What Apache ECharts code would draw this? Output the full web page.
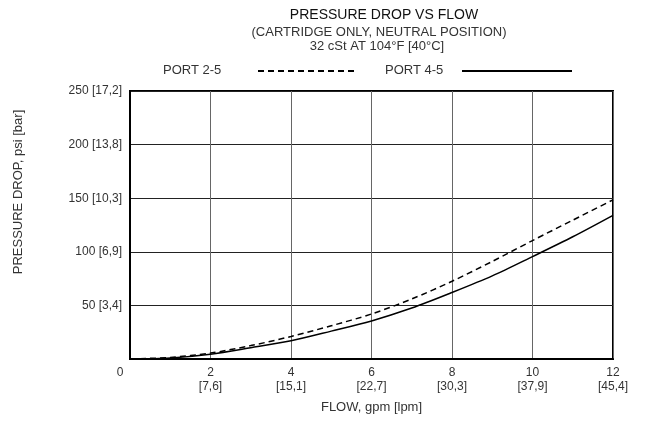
<!DOCTYPE html>
<html><head><meta charset="utf-8">
<script src="https://cdn.jsdelivr.net/npm/echarts@6/dist/echarts.min.js"></script>
<style>html,body{margin:0;padding:0;background:#fff}#c{width:647px;height:425px}</style>
</head><body><div id="c"></div>
<script>
var flow = [0, 1, 2, 3, 4, 5, 6, 7, 8, 9, 10, 11, 12];
var port25 = [0, 1.5, 5.5, 12.5, 21, 31, 42, 56, 72.5, 91, 110.5, 129.5, 148.5];
var port45 = [0, 1, 4.5, 10.5, 17, 26, 35.5, 47.5, 62, 77.5, 95.5, 114, 134];
var xTicks = [0, 2, 4, 6, 8, 10, 12];
var xLpm = ['', '7,6', '15,1', '22,7', '30,3', '37,9', '45,4'];
var yTicks = [0, 50, 100, 150, 200, 250];
var yBar = ['', '3,4', '6,9', '10,3', '13,8', '17,2'];
var seriesNames = ['PORT 2-5', 'PORT 4-5'];

var FONT = "'Liberation Sans','DejaVu Sans',sans-serif";
var TXT = '#333';
var chart = echarts.init(document.getElementById('c'), null, {renderer: 'canvas'});
chart.setOption({
  animation: false,
  textStyle: {fontFamily: FONT, color: TXT},
  title: [
    {text: 'PRESSURE DROP VS FLOW', left: 379, top: 3, textAlign: 'center',
     textStyle: {fontFamily: FONT, fontSize: 14, fontWeight: 'normal', color: '#111'}},
    {text: '(CARTRIDGE ONLY, NEUTRAL POSITION)', left: 374, top: 21, textAlign: 'center',
     textStyle: {fontFamily: FONT, fontSize: 13, fontWeight: 'normal', color: TXT}},
    {text: '32 cSt AT 104°F [40°C]', left: 372, top: 35, textAlign: 'center',
     textStyle: {fontFamily: FONT, fontSize: 13, fontWeight: 'normal', color: TXT}}
  ],
  graphic: [
    {type: 'text', left: 163, top: 64, style: {text: seriesNames[0], font: '13px ' + FONT, fill: TXT}},
    {type: 'line', shape: {x1: 258, y1: 71, x2: 355, y2: 71}, style: {stroke: '#000', lineWidth: 2, lineDash: [6, 4]}},
    {type: 'text', left: 385, top: 64, style: {text: seriesNames[1], font: '13px ' + FONT, fill: TXT}},
    {type: 'line', shape: {x1: 462, y1: 71, x2: 572, y2: 71}, style: {stroke: '#000', lineWidth: 2}},
    {type: 'text', x: 18, y: 192, rotation: Math.PI / 2,
     style: {text: 'PRESSURE DROP, psi [bar]', font: '13px ' + FONT, fill: TXT, align: 'center', verticalAlign: 'middle'}}
  ],
  grid: {left: 130, right: 34, top: 91, bottom: 66, show: true, borderColor: '#000', borderWidth: 2, containLabel: false},
  xAxis: {
    type: 'value', min: 0, max: 12, interval: 2,
    name: 'FLOW, gpm [lpm]', nameLocation: 'middle', nameGap: 42,
    nameTextStyle: {fontFamily: FONT, fontSize: 13, color: TXT},
    axisLine: {show: true, lineStyle: {color: '#000', width: 2}},
    axisTick: {show: false},
    splitLine: {show: true, lineStyle: {color: '#666', width: 1}},
    axisLabel: {
      fontFamily: FONT, fontSize: 12, color: TXT, lineHeight: 14, margin: 7,
      formatter: function (v) {
        var i = xTicks.indexOf(v);
        if (v === 0) return '{z|0}';
        return v + '\n[' + xLpm[i] + ']';
      },
      rich: {z: {fontFamily: FONT, fontSize: 12, color: TXT, lineHeight: 14, padding: [0, 20, 0, 0]}}
    }
  },
  yAxis: {
    type: 'value', min: 0, max: 250, interval: 50,
    axisLine: {show: true, lineStyle: {color: '#000', width: 2}},
    axisTick: {show: false},
    splitLine: {show: true, lineStyle: {color: '#222', width: 1}},
    axisLabel: {
      fontFamily: FONT, fontSize: 12, color: TXT, margin: 8,
      formatter: function (v) {
        if (v === 0) return '';
        var i = yTicks.indexOf(v);
        return v + ' [' + yBar[i] + ']';
      }
    }
  },
  series: [
    {name: seriesNames[0], type: 'line', smooth: 0.3, symbol: 'none',
     lineStyle: {color: '#000', width: 1.5, type: [6, 4]},
     data: flow.map(function (x, i) { return [x, port25[i]]; })},
    {name: seriesNames[1], type: 'line', smooth: 0.3, symbol: 'none',
     lineStyle: {color: '#000', width: 1.5, type: 'solid'},
     data: flow.map(function (x, i) { return [x, port45[i]]; })}
  ]
});
</script></body></html>
